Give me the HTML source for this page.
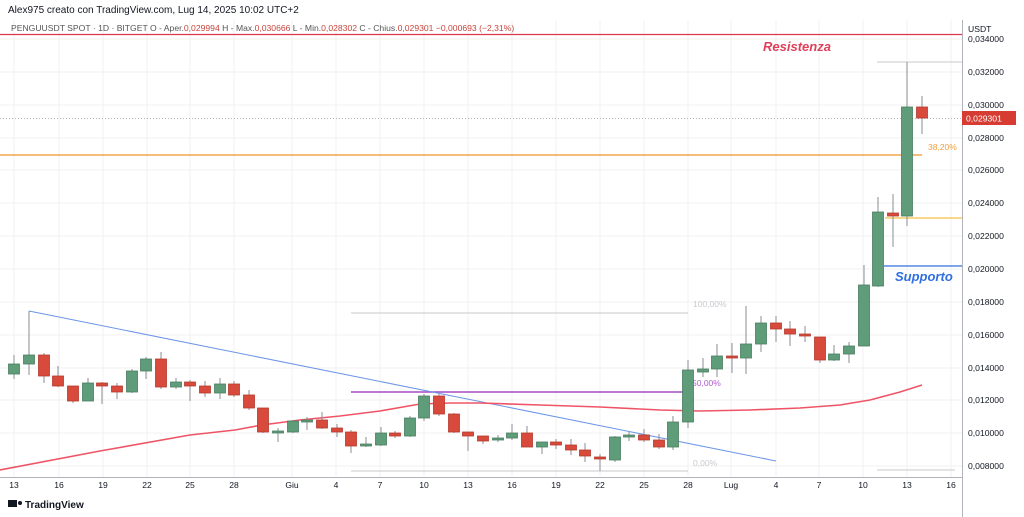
<!DOCTYPE html>
<html><head><meta charset="utf-8"><style>
html,body{margin:0;padding:0;background:#fff;}
svg{display:block;font-family:"Liberation Sans",sans-serif;}
</style></head><body>
<svg width="1024" height="517" viewBox="0 0 1024 517" xmlns="http://www.w3.org/2000/svg">
<rect width="1024" height="517" fill="#fff"/>
<g stroke="#f0f1f3" stroke-width="1">
<line x1="14" y1="20" x2="14" y2="477"/><line x1="59" y1="20" x2="59" y2="477"/><line x1="103" y1="20" x2="103" y2="477"/><line x1="147" y1="20" x2="147" y2="477"/><line x1="190" y1="20" x2="190" y2="477"/><line x1="234" y1="20" x2="234" y2="477"/><line x1="292" y1="20" x2="292" y2="477"/><line x1="336" y1="20" x2="336" y2="477"/><line x1="380" y1="20" x2="380" y2="477"/><line x1="424" y1="20" x2="424" y2="477"/><line x1="468" y1="20" x2="468" y2="477"/><line x1="512" y1="20" x2="512" y2="477"/><line x1="556" y1="20" x2="556" y2="477"/><line x1="600" y1="20" x2="600" y2="477"/><line x1="644" y1="20" x2="644" y2="477"/><line x1="688" y1="20" x2="688" y2="477"/><line x1="731" y1="20" x2="731" y2="477"/><line x1="776" y1="20" x2="776" y2="477"/><line x1="819" y1="20" x2="819" y2="477"/><line x1="863" y1="20" x2="863" y2="477"/><line x1="907" y1="20" x2="907" y2="477"/><line x1="951" y1="20" x2="951" y2="477"/>
<line x1="0" y1="39" x2="962" y2="39"/><line x1="0" y1="72" x2="962" y2="72"/><line x1="0" y1="105" x2="962" y2="105"/><line x1="0" y1="138" x2="962" y2="138"/><line x1="0" y1="170" x2="962" y2="170"/><line x1="0" y1="203" x2="962" y2="203"/><line x1="0" y1="236" x2="962" y2="236"/><line x1="0" y1="269" x2="962" y2="269"/><line x1="0" y1="302" x2="962" y2="302"/><line x1="0" y1="335" x2="962" y2="335"/><line x1="0" y1="368" x2="962" y2="368"/><line x1="0" y1="400" x2="962" y2="400"/><line x1="0" y1="433" x2="962" y2="433"/><line x1="0" y1="466" x2="962" y2="466"/>
</g>
<!-- header -->
<text x="8" y="13" font-size="10" fill="#131722">Alex975 creato con TradingView.com, Lug 14, 2025 10:02 UTC+2</text>
<text x="11" y="31" font-size="8.6" fill="#555">PENGUUSDT SPOT · 1D · BITGET  O - Aper.<tspan fill="#c8443c">0,029994</tspan>  H - Max.<tspan fill="#c8443c">0,030666</tspan>  L - Min.<tspan fill="#c8443c">0,028302</tspan>  C - Chius.<tspan fill="#c8443c">0,029301</tspan>  <tspan fill="#c8443c">−0,000693 (−2,31%)</tspan></text>
<!-- lines -->
<line x1="0" y1="34.5" x2="962" y2="34.5" stroke="#d8384a" stroke-width="1.3"/>
<line x1="0" y1="118.5" x2="962" y2="118.5" stroke="#b0b3ba" stroke-width="1" stroke-dasharray="1,2"/>
<line x1="0" y1="155" x2="922" y2="155" stroke="#f0932b" stroke-width="1.3"/>
<line x1="885" y1="218" x2="962" y2="218" stroke="#f5c242" stroke-width="1.3"/>
<line x1="884" y1="266" x2="962" y2="266" stroke="#2f6fe0" stroke-width="1.3"/>
<line x1="877" y1="62" x2="962" y2="62" stroke="#c8cacf" stroke-width="1"/>
<line x1="877" y1="470" x2="955" y2="470" stroke="#c8cacf" stroke-width="1"/>
<line x1="351" y1="313" x2="688" y2="313" stroke="#c8cacf" stroke-width="1"/>
<line x1="351" y1="392" x2="688" y2="392" stroke="#a64bc2" stroke-width="1.5"/>
<line x1="351" y1="471" x2="688" y2="471" stroke="#c8cacf" stroke-width="1"/>
<text x="693" y="307" font-size="8.5" fill="#c8cacf">100,00%</text>
<text x="692" y="386" font-size="8.5" fill="#b15ad0">50,00%</text>
<text x="693" y="466" font-size="8.5" fill="#c8cacf">0,00%</text>
<text x="928" y="150" font-size="8.5" fill="#f0a040">38,20%</text>
<text x="763" y="51" font-size="13" font-weight="bold" font-style="italic" fill="#e0405a">Resistenza</text>
<text x="895" y="281" font-size="13" font-weight="bold" font-style="italic" fill="#2f6fe0">Supporto</text>
<line x1="29" y1="311" x2="776" y2="461" stroke="#6d95e8" stroke-width="1"/>
<polyline fill="none" stroke="#ef5466" stroke-width="1.6" points="0,470 100,451 190,435 235,430 262,425 300,420 340,416 380,411 420,404 450,403 480,403 540,405 600,407 660,410 700,411 750,410 800,408 840,405 870,400 900,392 922,385"/>
<g id="c" stroke-width="1"></g>
<!-- axis -->
<line x1="962.5" y1="20" x2="962.5" y2="517" stroke="#b0b3ba"/>
<line x1="0" y1="477.5" x2="962" y2="477.5" stroke="#b0b3ba"/>
<g font-size="8.6" fill="#131722">
<text x="968" y="32">USDT</text>
<text x="968" y="42">0,034000</text><text x="968" y="75">0,032000</text><text x="968" y="108">0,030000</text><text x="968" y="141">0,028000</text><text x="968" y="173">0,026000</text><text x="968" y="206">0,024000</text><text x="968" y="239">0,022000</text><text x="968" y="272">0,020000</text><text x="968" y="305">0,018000</text><text x="968" y="338">0,016000</text><text x="968" y="371">0,014000</text><text x="968" y="403">0,012000</text><text x="968" y="436">0,010000</text><text x="968" y="469">0,008000</text>
</g>
<rect x="962" y="111" width="54" height="14" fill="#d63c32"/>
<text x="966" y="121.5" font-size="8.6" fill="#fff">0,029301</text>
<g font-size="8.6" fill="#131722" text-anchor="middle">
<text x="14" y="488">13</text><text x="59" y="488">16</text><text x="103" y="488">19</text><text x="147" y="488">22</text><text x="190" y="488">25</text><text x="234" y="488">28</text><text x="292" y="488">Giu</text><text x="336" y="488">4</text><text x="380" y="488">7</text><text x="424" y="488">10</text><text x="468" y="488">13</text><text x="512" y="488">16</text><text x="556" y="488">19</text><text x="600" y="488">22</text><text x="644" y="488">25</text><text x="688" y="488">28</text><text x="731" y="488">Lug</text><text x="776" y="488">4</text><text x="819" y="488">7</text><text x="863" y="488">10</text><text x="907" y="488">13</text><text x="951" y="488">16</text>
</g>
<g transform="translate(8,500)"><rect x="0" y="0" width="9" height="7" fill="#131722"/><circle cx="12" cy="3" r="2" fill="#131722"/><text x="17" y="8" font-size="10" font-weight="bold" fill="#131722">TradingView</text></g>
<g id="candles">
</g>
</svg>
<script>
var d=[
[14,'g',364,374,355,379],[29,'g',355,364,311,375],[44,'r',355,376,353,383],[58,'r',376,386,366,387],[73,'r',386,401,386,403],[88,'g',383,401,378,401],[102,'r',383,386,382,404],[117,'r',386,392,383,399],[132,'g',371,392,369,393],[146,'g',359,371,357,379],[161,'r',359,387,352,389],[176,'g',382,387,378,389],[190,'r',382,386,380,401],[205,'r',386,393,381,397],[220,'g',384,393,378,399],[234,'r',384,395,381,397],[249,'r',395,408,390,410],[263,'r',408,432,408,433],[278,'g',431,432,428,442],[293,'g',421,432,421,433],[307,'g',420,421,417,430],[322,'r',420,428,412,429],[337,'r',428,432,424,437],[351,'r',432,446,430,453],[366,'g',444,446,437,447],[381,'g',433,445,427,446],[395,'r',433,436,431,438],[410,'g',418,436,416,437],[424,'g',396,418,394,421],[439,'r',396,414,394,416],[454,'r',414,432,413,433],[468,'r',432,436,432,451],[483,'r',436,441,436,444],[498,'g',438,440,435,442],[512,'g',433,438,424,440],[527,'r',433,447,426,447],[542,'g',442,447,442,454],[556,'r',442,445,439,449],[571,'r',445,450,439,455],[585,'r',450,456,443,462],[600,'r',457,459,454,471],[615,'g',437,460,436,462],[629,'g',435,437,432,441],[644,'r',435,440,429,442],[659,'r',440,447,434,449],[673,'g',422,447,416,450],[688,'g',370,422,360,428],[703,'g',369,372,358,377],[717,'g',356,369,344,377],[732,'r',356,358,343,373],[746,'g',344,358,306,374],[761,'g',323,344,316,352],[776,'r',323,329,316,342],[790,'r',329,334,321,346],[805,'r',334,336,326,342],[820,'r',337,360,337,363],[834,'g',354,360,345,361],[849,'g',346,354,342,363],[864,'g',285,346,265,346],[878,'g',212,286,197,287],[893,'r',213,216,194,247],[907,'g',107,216,62,226],[922,'r',107,118,96,134]];
var s='';
d.forEach(function(c){var col=c[1]=='g'?'#5f9c7a':'#d84a3c';var st=c[1]=='g'?'#4a7d60':'#b53a2e';
s+='<line x1="'+c[0]+'" y1="'+c[4]+'" x2="'+c[0]+'" y2="'+c[5]+'" stroke="#8a8d93" stroke-width="1"/>';
var h=Math.max(c[3]-c[2],2);
s+='<rect x="'+(c[0]-5.5)+'" y="'+c[2]+'" width="11" height="'+h+'" fill="'+col+'" stroke="'+st+'" stroke-width="0.8"/>';});
document.getElementById('candles').innerHTML=s;
</script>
</body></html>
